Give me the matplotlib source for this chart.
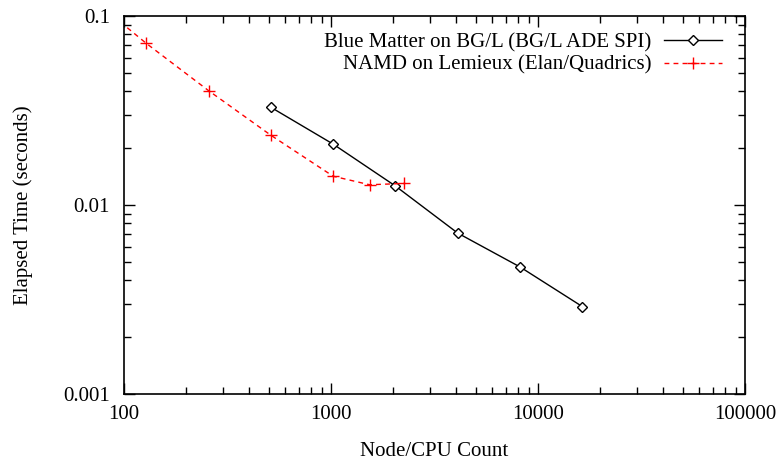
import matplotlib
matplotlib.use("Agg")
import matplotlib.pyplot as plt
from matplotlib.ticker import LogLocator, FixedLocator, FixedFormatter, NullFormatter

# ---------------------------------------------------------------------------
# Data
# ---------------------------------------------------------------------------
bgl_nodes = [512, 1024, 2048, 4096, 8192, 16384]
bgl_time = [0.0329, 0.0210, 0.0126, 0.0071, 0.0047, 0.0029]
bgl_label = "Blue Matter on BG/L (BG/L ADE SPI)"

namd_cpus = [64, 128, 256, 512, 1024, 1536, 2250]
namd_time = [0.134, 0.0717, 0.0403, 0.0234, 0.0142, 0.0128, 0.0130]
namd_label = "NAMD on Lemieux (Elan/Quadrics)"

x_ticks = [100, 1000, 10000, 100000]
x_tick_labels = ["100", "1000", "10000", "100000"]
y_ticks = [0.001, 0.01, 0.1]
y_tick_labels = ["0.001", "0.01", "0.1"]

plt.rcParams["font.family"] = ["Liberation Serif", "DejaVu Serif"]

fig = plt.figure(figsize=(7.78, 4.61), dpi=100)
ax = fig.add_axes([124 / 778, 1 - 394 / 461, 621 / 778, 378 / 461])

ax.plot(bgl_nodes, bgl_time, color="black", lw=1.0, marker="D", ms=5,
        mfc="white", mec="black", mew=1.0, label=bgl_label)
ax.plot(namd_cpus, namd_time, color="red", lw=1.0, ls=(0, (3.5, 3)), marker="+",
        ms=9, mew=1.0, label=namd_label)

ax.set_xscale("log")
ax.set_yscale("log")
ax.set_xlim(100, 100000)
ax.set_ylim(0.001, 0.1)

ax.xaxis.set_major_locator(FixedLocator(x_ticks))
ax.xaxis.set_major_formatter(FixedFormatter(x_tick_labels))
ax.yaxis.set_major_locator(FixedLocator(y_ticks))
ax.yaxis.set_major_formatter(FixedFormatter(y_tick_labels))
ax.xaxis.set_minor_locator(LogLocator(base=10, subs=range(2, 10)))
ax.yaxis.set_minor_locator(LogLocator(base=10, subs=range(2, 10)))
ax.xaxis.set_minor_formatter(NullFormatter())
ax.yaxis.set_minor_formatter(NullFormatter())

ax.tick_params(which="both", direction="in", top=True, right=True, width=1.0,
               labelsize=15)
ax.tick_params(which="major", length=8)
ax.tick_params(which="minor", length=5)
ax.tick_params(axis="y", which="major", pad=10)
ax.tick_params(axis="x", which="major", pad=8)
for s in ax.spines.values():
    s.set_linewidth(1.2)

ax.set_xlabel("Node/CPU Count", fontsize=15, labelpad=13)
ax.set_ylabel("Elapsed Time (seconds)", fontsize=15, labelpad=22)

ax.legend(loc="upper right", bbox_to_anchor=(0.99, 1.0), frameon=False,
          markerfirst=False, fontsize=15, handlelength=2.8, handletextpad=0.6,
          labelspacing=0.15, borderaxespad=0.4, borderpad=0.4)

fig.savefig("out.png", dpi=100)
